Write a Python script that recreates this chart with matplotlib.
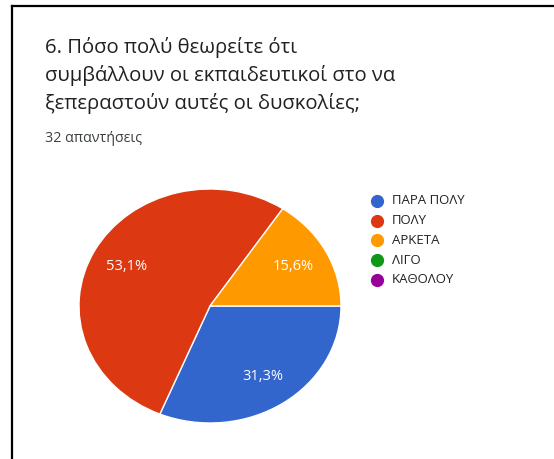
import matplotlib.pyplot as plt
from matplotlib.lines import Line2D

plt.rcParams['font.family'] = ['Open Sans', 'DejaVu Sans']

labels = ['ΠΑΡΑ ΠΟΛΥ', 'ΠΟΛΥ', 'ΑΡΚΕΤΑ', 'ΛΙΓΟ', 'ΚΑΘΟΛΟΥ']
counts = [10, 17, 5, 0, 0]
colors = ['#3366CC', '#DC3912', '#FF9900', '#109618', '#990099']

title_lines = ['6. Πόσο πολύ θεωρείτε ότι',
               'συμβάλλουν οι εκπαιδευτικοί στο να',
               'ξεπεραστούν αυτές οι δυσκολίες;']
subtitle = '32 απαντήσεις'

W, H = 554, 459
fig = plt.figure(figsize=(W / 100, H / 100), dpi=100)
fig.patch.set_facecolor('white')

# frame: only top and left edges visible in the screenshot
fig.add_artist(Line2D([12 / W, 1], [1 - 6 / H, 1 - 6 / H], color='black', lw=1.6))
fig.add_artist(Line2D([12 / W, 12 / W], [0, 1 - 6 / H], color='black', lw=1.6))

for i, line in enumerate(title_lines):
    fig.text(45 / W, 1 - (47 + 28 * i) / H, line, fontsize=14.6, color='#202124',
             va='center', ha='left')
fig.text(45 / W, 1 - 138 / H, subtitle, fontsize=10.3, color='#3c4043',
         va='center', ha='left')


def pct(p):
    # Google rounds halves up (31.25 -> 31,3)
    return f'{p + 1e-6:.1f}%'.replace('.', ',')


# pie (slightly stretched horizontally like the source image)
cx, cy, rx, ry = 210, 306, 131, 117
ax = fig.add_axes([(cx - rx) / W, 1 - (cy + ry) / H, 2 * rx / W, 2 * ry / H])
nz = [(c, col) for c, col in zip(counts, colors) if c > 0]
wedges, texts, autotexts = ax.pie(
    [c for c, _ in nz], colors=[col for _, col in nz], startangle=0,
    counterclock=False, autopct=pct,
    pctdistance=0.72, wedgeprops=dict(edgecolor='white', linewidth=1),
    textprops=dict(color='white', fontsize=10.5))
ax.set_aspect('auto')
ax.set_xlim(-1, 1)
ax.set_ylim(-1, 1)

# legend
for i, (lab, col) in enumerate(zip(labels, colors)):
    y = 1 - (201 + 19.7 * i) / H
    fig.add_artist(Line2D([377 / W], [y], marker='o', markersize=8.5,
                          color=col, linestyle='none'))
    fig.text(392 / W, y, lab, fontsize=9.5, color='#222222', va='center', ha='left')

fig.savefig('out.png', dpi=100)
